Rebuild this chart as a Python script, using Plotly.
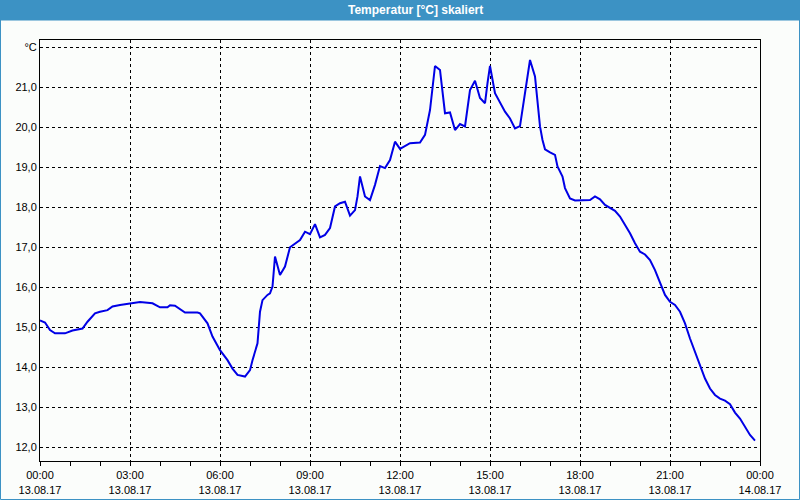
import plotly.graph_objects as go

# ---- data -------------------------------------------------------------
times = [
    "00:00", "00:10", "00:20", "00:30", "00:50", "01:05", "01:25", "01:35", "01:50", "02:00",
    "02:15", "02:25", "02:40", "03:00", "03:20", "03:45", "04:00", "04:15", "04:20", "04:30",
    "04:50", "05:15", "05:20", "05:35", "05:45", "06:00", "06:15", "06:25", "06:35", "06:50",
    "07:00", "07:05", "07:15", "07:20", "07:25", "07:35", "07:40", "07:45", "07:50", "08:00",
    "08:10", "08:20", "08:30", "08:40", "08:50", "09:00", "09:10", "09:20", "09:30", "09:40",
    "09:50", "10:00", "10:10", "10:20", "10:30", "10:35", "10:40", "10:50", "11:00", "11:10",
    "11:20", "11:30", "11:40", "11:45", "11:50", "12:00", "12:10", "12:20", "12:40", "12:50",
    "13:00", "13:10", "13:20", "13:25", "13:30", "13:40", "13:50", "14:00", "14:10", "14:20",
    "14:30", "14:40", "14:50", "14:55", "15:00", "15:10", "15:20", "15:30", "15:40", "15:50",
    "16:00", "16:10", "16:20", "16:30", "16:40", "16:45", "16:50", "17:00", "17:10", "17:15",
    "17:25", "17:30", "17:40", "17:50", "18:20", "18:30", "18:40", "18:50", "19:00", "19:10",
    "19:20", "19:30", "19:40", "19:50", "20:00", "20:10", "20:20", "20:30", "20:40", "20:50",
    "21:00", "21:10", "21:20", "21:30", "21:40", "21:50", "22:00", "22:10", "22:20", "22:30",
    "22:40", "22:50", "23:00", "23:10", "23:20", "23:30", "23:40", "23:50",
]
temps = [
    15.17, 15.12, 14.93, 14.85, 14.85, 14.92, 14.97, 15.14, 15.35, 15.39,
    15.43, 15.52, 15.56, 15.60, 15.63, 15.60, 15.50, 15.50, 15.55, 15.54,
    15.37, 15.37, 15.35, 15.10, 14.77, 14.43, 14.18, 13.97, 13.81, 13.77,
    13.93, 14.18, 14.60, 15.39, 15.68, 15.81, 15.85, 16.02, 16.77, 16.31,
    16.52, 17.00, 17.08, 17.18, 17.39, 17.33, 17.58, 17.25, 17.31, 17.48,
    18.02, 18.10, 18.14, 17.79, 17.93, 18.27, 18.77, 18.27, 18.18, 18.56,
    19.03, 18.98, 19.18, 19.45, 19.64, 19.46, 19.52, 19.60, 19.62, 19.81,
    20.43, 21.53, 21.43, 20.93, 20.35, 20.37, 19.93, 20.08, 20.02, 20.93,
    21.16, 20.73, 20.60, 21.10, 21.53, 20.85, 20.60, 20.39, 20.22, 19.97,
    20.03, 20.85, 21.68, 21.27, 20.02, 19.68, 19.45, 19.37, 19.31, 19.02,
    18.77, 18.48, 18.22, 18.17, 18.18, 18.27, 18.20, 18.06, 17.98, 17.91,
    17.77, 17.56, 17.35, 17.10, 16.89, 16.82, 16.68, 16.43, 16.14, 15.81,
    15.64, 15.56, 15.39, 15.10, 14.72, 14.39, 14.06, 13.72, 13.47, 13.31,
    13.22, 13.17, 13.08, 12.87, 12.72, 12.52, 12.31, 12.17,
]
date = "2017-08-13"

x_tickvals = ["2017-08-13 00:00", "2017-08-13 03:00", "2017-08-13 06:00", "2017-08-13 09:00",
              "2017-08-13 12:00", "2017-08-13 15:00", "2017-08-13 18:00", "2017-08-13 21:00",
              "2017-08-14 00:00"]
x_ticktext = ["00:00<br>13.08.17", "03:00<br>13.08.17", "06:00<br>13.08.17", "09:00<br>13.08.17",
              "12:00<br>13.08.17", "15:00<br>13.08.17", "18:00<br>13.08.17", "21:00<br>13.08.17",
              "00:00<br>14.08.17"]
y_tickvals = [12, 13, 14, 15, 16, 17, 18, 19, 20, 21, 22]
y_ticktext = ["12,0", "13,0", "14,0", "15,0", "16,0", "17,0", "18,0", "19,0", "20,0", "21,0", "°C"]
title_text = "Temperatur [°C] skaliert"

# ---- layout geometry ----------------------------------------------------
W, H = 800, 500
ML, MR, MT, MB = 40, 40, 40, 39
PW, PH = W - ML - MR, H - MT - MB


def px_x(p):  # pixel -> paper x
    return (p - ML) / PW


def px_y(p):  # pixel -> paper y
    return (H - MB - p) / PH


BG = "#fbfdfb"
BAR = "#3c92c4"

fig = go.Figure()
fig.add_trace(go.Scatter(
    x=[f"{date} {t}" for t in times], y=temps, mode="lines",
    line=dict(color="#0000e6", width=2), hoverinfo="skip",
))

fig.update_layout(
    width=W, height=H,
    margin=dict(l=ML, r=MR, t=MT, b=MB, pad=0, autoexpand=False),
    paper_bgcolor=BG, plot_bgcolor=BG,
    showlegend=False,
    font=dict(family="Liberation Sans, Arial, sans-serif", size=11, color="#000000"),
    xaxis=dict(
        range=["2017-08-13 00:00", "2017-08-14 00:00"],
        automargin=False,
        tickmode="array", tickvals=x_tickvals, ticktext=x_ticktext,
        ticks="outside", ticklen=4, tickcolor="#000000", tickwidth=1,
        showgrid=True, gridcolor="#000000", gridwidth=1, griddash="3px,3px",
        showline=True, linecolor="#000000", linewidth=1, mirror=True,
        zeroline=False,
        minor=dict(dtick=3600000, tick0="2017-08-13 00:00", ticks="outside", ticklen=4,
                   tickcolor="#000000", showgrid=False),
    ),
    yaxis=dict(
        range=[11.66, 22.18],
        automargin=False,
        tickmode="array", tickvals=y_tickvals, ticktext=y_ticktext,
        ticks="", showgrid=True, gridcolor="#000000", gridwidth=1, griddash="3px,3px",
        showline=True, linecolor="#000000", linewidth=1, mirror=True,
        zeroline=False,
    ),
    shapes=[
        dict(type="rect", xref="paper", yref="paper", layer="below",
             x0=px_x(0), x1=px_x(W), y0=px_y(0), y1=px_y(20),
             fillcolor=BAR, line=dict(width=0)),
        dict(type="rect", xref="paper", yref="paper", layer="above",
             x0=px_x(0.5), x1=px_x(W - 0.5), y0=px_y(20), y1=px_y(H - 0.5),
             fillcolor="rgba(0,0,0,0)", line=dict(color=BAR, width=1)),
    ],
    annotations=[
        dict(text=f"<b>{title_text}</b>", xref="paper", yref="paper",
             x=px_x(415), y=px_y(10), xanchor="center", yanchor="middle",
             showarrow=False, font=dict(color="#ffffff", size=12,
                                        family="Liberation Sans, Arial, sans-serif")),
    ],
)

fig.write_html("out.html")
